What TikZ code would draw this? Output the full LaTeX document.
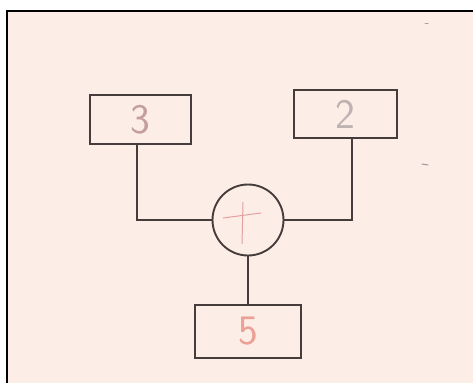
\documentclass[tikz,border=0pt]{standalone}
\usepackage{fontspec}
\begin{document}
\begin{tikzpicture}[x=1pt,y=-1pt,
  ink/.style={draw=inkgray,line width=1.9pt},
  digit/.style={font=\sffamily\fontsize{42}{42}\selectfont},
]
\definecolor{paper}{RGB}{253,237,231}
\definecolor{inkgray}{RGB}{70,60,60}
\definecolor{digitA}{RGB}{196,158,158}
\definecolor{digitB}{RGB}{190,178,178}
\definecolor{digitC}{RGB}{236,160,150}
\definecolor{plusink}{RGB}{226,160,160}
\useasboundingbox (0,0) rectangle (473,383);
\fill[white] (0,0) rectangle (473,383);
\fill[paper] (7,11) rectangle (473,383);
% sheet edge
\draw[black,line width=2pt] (7,383) -- (7,11) -- (473,11);
% stray pencil marks
\draw[gray!70,line width=1pt,line cap=round] (425,23) -- (428,23);
\draw[gray!80,line width=1pt,line cap=round] (422,164) -- (428,165);

% blocks
\draw[ink] (90,95) rectangle (191,144);
\draw[ink] (294,90) rectangle (397,138);
\draw[ink] (195,305) rectangle (301,358);
\node[inner sep=0,minimum width=101pt,minimum height=49pt] (b3) at (140.5,119.5) {};
\node[inner sep=0,minimum width=103pt,minimum height=48pt] (b2) at (345.5,114) {};
\node[inner sep=0,minimum width=106pt,minimum height=53pt] (b5) at (248,331.5) {};
\node[ink,circle,minimum size=71pt,inner sep=0] (sum) at (248,220) {};

% digits
\node[text=digitA,digit] at (b3) {3};
\node[text=digitB,digit] at (b2) {2};
\node[text=digitC,digit] at (b5) {5};
\draw[plusink,line width=1pt] (223,218) -- (261,213);
\draw[plusink,line width=1pt] (243,202) -- (242,244);

% connectors
\draw[ink] (b3.south -| 137,0) |- (sum.west);
\draw[ink] (b2.south -| 352,0) |- (sum.east);
\draw[ink] (sum.south) -- (b5.north);
\end{tikzpicture}
\end{document}
